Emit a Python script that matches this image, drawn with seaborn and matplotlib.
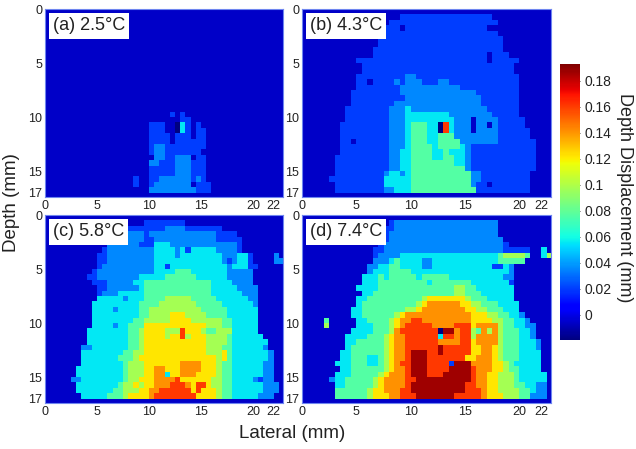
"""Depth displacement maps at four temperature rises, with a shared colorbar."""
import matplotlib.pyplot as plt
import numpy as np
import seaborn as sns

# displacement in mm for each map level
LEVELS = {".": -0.006, "n": -0.02, "1": 0.020, "2": 0.036, "3": 0.056, "4": 0.076,
          "5": 0.097, "6": 0.122, "7": 0.141, "8": 0.161, "9": 0.187}

N_COLS = 46
PANEL_TITLES = ["(a) 2.5°C", "(b) 4.3°C", "(c) 5.8°C", "(d) 7.4°C"]
X_TICKS = [0, 5, 10, 15, 20, 22]
Y_TICKS = [0, 5, 10, 15, 17]
CBAR_TICKS = [0, 0.02, 0.04, 0.06, 0.08, 0.1, 0.12, 0.14, 0.16, 0.18]
CBAR_LABELS = ["0", "0.02", "0.04", "0.06", "0.08", "0.1", "0.12", "0.14", "0.16", "0.18"]

# each string is a row, 0.5 mm apart, spaced every 10 cells; short rows end in background
BG = ".........."
PANEL_A = [""] * 19 + [
    f"{BG} {BG} ....1.1...",
    f"{BG} {BG} ......11..",
    f"{BG} {BG} 111..n31.1",
    f"{BG} {BG} 111..n31.1 1",
    f"{BG} {BG} 1111.111.1 1",
    f"{BG} {BG} 1111.11111 1",
    f"{BG} {BG} 1221111111 1",
    f"{BG} {BG} 1221111111",
    f"{BG} {BG} .2211222.1 1",
    f"{BG} {BG} 2211122211 1",
    f"{BG} {BG} 1111122211 1",
    f"{BG} {BG} 1111122211 1",
    f"{BG} .......1.. 1122222212 1",
    f"{BG} .......1.. 12222222.1 11",
    f"{BG} {BG} 2222222221 11",
    "",
]

ONES = "1111111111"
TWOS = "2222222222"
THREES = "3333333333"
FOURS = "4444444444"
PANEL_B = [
    "",
    f"{BG} ........11 {ONES} 11111.....",
    f"{BG} ......1111 {ONES} 111111....",
    f"{BG} .....111.1 {ONES} 1111......",
    f"{BG} .....11111 {ONES} 111111....",
    f"{BG} ....111111 {ONES} 1111111...",
    f"{BG} ....111111 {ONES} 1111111...",
    f"{BG} ...1111111 {ONES} 1111111...",
    f"{BG} ...1111111 {ONES} 1111.111..",
    f"{BG} {ONES} {ONES} 1111.11111",
    f"{BG} .111111111 {ONES} 111111111.",
    f"{BG} .111111111 {ONES} 111111111.",
    f"{BG} 1111111112 2111111111 {ONES}",
    f"{BG} 11.1111212 2211122111 {ONES}",
    f"{BG} 1111111122 2222222221 {ONES}",
    f".........1 1111111122 {TWOS} 2211111111",
    f".........1 1111111112 {TWOS} 2221111111",
    f".........1 1111111222 {TWOS} 2221111111",
    f"........11 1111112223 {TWOS} 2222111111",
    f"........11 1111112223 3333333222 2222211111",
    f"........11 1111112223 3333333322 2.22221111 1",
    ".......111 1111112223 44433n8322 2.22.21111 1",
    ".......111 1111112223 44433n8322 2.22221111 11",
    ".......111 1111112223 4443344422 2222221111 11",
    ".......11. 1111112223 4443344442 2222221111 111",
    f".......111 1111112223 4444344443 2{ONES[:9]} 111",
    f".......111 1111112233 4444334333 2{ONES[:9]} 111",
    f"......1111 1111112233 4444334433 2{ONES[:9]} 111",
    f"......1111 1111112233 4444444433 2{ONES[:9]} 111",
    f"......1111 1111112233 {FOURS} 2{ONES[:9]} 111",
    f"......1111 1111123323 {FOURS} 4221111111 11",
    f".....11111 1111133333 {FOURS} 4221111111 11",
    f"......1111 1111133333 {FOURS} 4211.11111 11",
    f"......1111 1111122333 {FOURS} 4411111111 11",
    "",
]

PANEL_C = [
    "",
    f"{BG} .........1 1111111...",
    f"{BG} ......1111 1112222111 1111......",
    f"{BG} ....112221 {TWOS} 2221111...",
    f"{BG} ...1112221 1222222222 22211111..",
    f"{BG} ..22222211 1333222222 22222221..",
    f"{BG} .122222222 2333323133 33322221..",
    f"{BG} 1122222222 2333323333 3333222331 ....2.",
    f"{BG} 1122222222 2333333333 3333212331 ....22",
    f"{BG} 1222222222 2331333333 3333323331 1",
    f".........1 {TWOS} 2333344433 3333322222",
    "........11 2222222233 3334444443 3333322222",
    f".........1 1122222334 {FOURS} 4433332222",
    f"{BG} 1122222234 {FOURS} 4433333222 2",
    f"{BG} 1222333334 {FOURS} 4433333322 2",
    f"{BG} 3333323334 4445555544 4443333332 2",
    ".........3 3333333344 4455555554 4444333333 2",
    ".........3 3332333344 5555555555 4444433333 3",
    ".........3 3333333344 5555666555 5444433333 3",
    ".........3 3333333445 5555666655 5555443333 3",
    ".........3 3332334446 6666666666 6555443333 3",
    "........33 3333334456 6665558666 5445553333 3",
    "........33 3333334456 6665668566 6555543333 33",
    "........33 3333334456 6666666666 6555543333 333",
    ".......223 3333334456 6666666666 6555443333 332",
    ".......333 3333344556 6666666666 6555643333 3332",
    ".......333 3333444566 6666666666 6665643333 3332",
    ".......333 3333345556 6666667777 6665443333 3322",
    "......3333 3333345556 6776667777 6665443333 3322",
    "......3333 3333345556 6773667776 6665443333 3322",
    ".....22333 3333345566 6777786666 6655443333 2122",
    "......3333 3333455656 6777888768 8655443333 33222",
    "......3333 3334455566 7788888868 6665443333 33222",
    ".......333 3344456666 7888888886 6665443333 3222",
    "",
]

PANEL_D = [
    "",
    f"{BG} ......1222 {TWOS} 222222....",
    f"{BG} .....11222 {TWOS} 222222....",
    f"{BG} .....12222 {TWOS} 222222....",
    f"{BG} ....112222 {TWOS} 2222222...",
    f"{BG} ....122222 {TWOS} 22222221..",
    f"{BG} ...1122222 {TWOS} 2222222111 11..3",
    f"{BG} ...1222233 {THREES} 3333334555 54..35",
    f"{BG} ...2223433 3322333333 3333334444 4",
    f"{BG} ..22334433 3322333333 333331132.",
    f"{BG} ..23334444 {THREES} 333333332.",
    f"{BG} .333434444 4344444333 333333322.",
    f"{BG} .333444444 4443444444 433333331.",
    f"{BG} 3333444444 4444444455 443333333.",
    f"{BG} .334444444 4444444455 444333333.",
    f"{BG} 3344444444 4456666666 544433333.",
    f"{BG} 3444444444 4567777776 6554443333",
    ".........3 3444444445 5677777777 6655444333",
    ".........3 3444444567 7777777777 7666554433 2",
    "....4..... 3344445677 8877777777 7666655443 32",
    "....5..... 3334445678 8888777788 8677775443 322",
    ".........3 3334445788 88888n9978 8547575444 332",
    "........33 3344456778 8888838878 8577775444 332",
    "........33 4444456778 8888877778 8677775444 3332",
    "........34 4444456778 8888898888 8667765444 3332",
    ".......334 4444456778 9998898888 8667765444 3333",
    ".......334 4433456778 9998888888 6677765444 3333",
    "......3334 4433456788 9998888199 9777766543 3333",
    ".......334 4444456778 9998888999 9877766544 3333",
    "......3334 4444567778 9998889999 9877665554 33333",
    ".....23344 4445677778 8999999999 9877665554 33333",
    "......3344 4445677778 9999999999 8877665554 43322",
    "......4444 4456677788 9999999999 8887665555 44322",
    "......4444 4456667788 8999999988 8887666555 44222",
    "",
]

PANELS = [PANEL_A, PANEL_B, PANEL_C, PANEL_D]

# panel boxes in pixels: left, top, width, height
FIG_W, FIG_H = 636, 449
BOXES = [(45, 9, 238, 188), (302, 9, 249, 188), (45, 215, 238, 188), (302, 215, 249, 188)]
CBAR_BOX = (560, 64, 20, 276)
FRAME = "#6f86f0"


def to_grid(rows):
    """Turn the level strings into a numeric grid."""
    rows = [r.replace(" ", "").ljust(N_COLS, ".")[:N_COLS] for r in rows]
    return np.array([[LEVELS[c] for c in r] for r in rows])


def px_axes(fig, box):
    left, top, w, h = box
    return fig.add_axes([left / FIG_W, 1 - (top + h) / FIG_H, w / FIG_W, h / FIG_H])


sns.set_theme(style="white")
plt.rcParams["font.family"] = ["Liberation Sans", "DejaVu Sans"]

fig = plt.figure(figsize=(FIG_W / 100, FIG_H / 100), dpi=100)
cax = px_axes(fig, CBAR_BOX)

cbar = None
for i, (rows, title, box) in enumerate(zip(PANELS, PANEL_TITLES, BOXES)):
    ax = px_axes(fig, box)
    sns.heatmap(to_grid(rows), ax=ax, cmap="jet", vmin=-0.0195, vmax=0.193,
                cbar=i == 0, cbar_ax=cax if i == 0 else None,
                xticklabels=False, yticklabels=False)
    if i == 0:
        cbar = ax.collections[0].colorbar
    ax.set_xlim(0, 45.8)
    ax.set_ylim(34.8, 0)
    ax.set_xticks([v * 2 for v in X_TICKS], [str(v) for v in X_TICKS])
    ax.set_yticks([v * 2 for v in Y_TICKS], [str(v) for v in Y_TICKS], rotation=0)
    ax.tick_params(length=0, labelsize=9, pad=2, colors="#222222")
    for spine in ax.spines.values():
        spine.set_visible(True)
        spine.set_color(FRAME)
        spine.set_linewidth(0.8)
    ax.text(8 / box[2], 0.91, title, transform=ax.transAxes, fontsize=13, va="center",
            color="#222222", bbox=dict(fc="white", ec="none", pad=3))

cbar.set_ticks(CBAR_TICKS, labels=CBAR_LABELS)
cax.tick_params(length=2, direction="in", width=0.6, labelsize=10, pad=3, colors="#222222")

fig.text(12 / FIG_W, 1 - 203 / FIG_H, "Depth (mm)", rotation=90, fontsize=13.5, ha="center", va="center", color="#222222")
fig.text(292 / FIG_W, 1 - 433 / FIG_H, "Lateral (mm)", fontsize=13.5, ha="center", va="center", color="#222222")
fig.text(625 / FIG_W, 1 - 198 / FIG_H, "Depth Displacement (mm)", rotation=270, fontsize=13, ha="center", va="center", color="#222222")

fig.savefig("out.png", dpi=100)
